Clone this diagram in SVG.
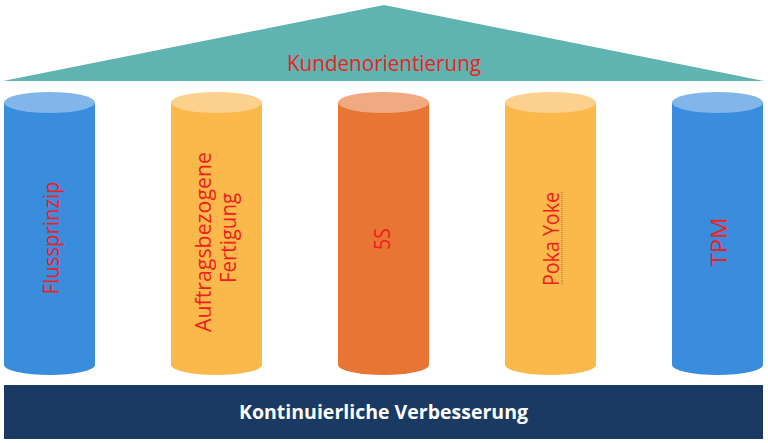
<svg xmlns="http://www.w3.org/2000/svg" width="768" height="443" viewBox="0 0 768 443">
<style>
.lbl{font-family:"Open Sans","Noto Sans","Liberation Sans",sans-serif;fill:#f0201e;font-size:21px;text-anchor:middle}
.base{font-family:"Open Sans","Noto Sans","Liberation Sans",sans-serif;fill:#ffffff;font-size:20px;font-weight:bold;text-anchor:middle}
.blue{fill:#3a8ddd}.blueTop{fill:#82b5e9}
.yel{fill:#fbb84b}.yelTop{fill:#fcd08d}
.ora{fill:#e97534}.oraTop{fill:#f1a981}
</style>
<rect width="768" height="443" fill="#ffffff"/>
<g id="roof">
<polygon points="384,5 764,81 3,81" fill="#5fb3b0"/>
<text class="lbl" x="384" y="71" textLength="194" lengthAdjust="spacingAndGlyphs">Kundenorientierung</text>
</g>
<g id="pillar-flussprinzip">
<path class="blue" d="M4,102.5 V365 A45.5,10 0 0 0 95,365 V102.5 Z"/>
<ellipse class="blueTop" cx="49.5" cy="102.5" rx="45.5" ry="10.5"/>
<text class="lbl" transform="translate(59,238) rotate(-90)" textLength="113" lengthAdjust="spacingAndGlyphs">Flussprinzip</text>
</g>
<g id="pillar-auftragsbezogene">
<path class="yel" d="M171,102.5 V365 A45.5,10 0 0 0 262,365 V102.5 Z"/>
<ellipse class="yelTop" cx="216.5" cy="102.5" rx="45.5" ry="10.5"/>
<text class="lbl" transform="translate(211,242) rotate(-90)" textLength="180" lengthAdjust="spacingAndGlyphs">Auftragsbezogene</text>
<text class="lbl" transform="translate(236,238) rotate(-90)" textLength="90" lengthAdjust="spacingAndGlyphs">Fertigung</text>
</g>
<g id="pillar-5s">
<path class="ora" d="M338,102.5 V365 A45.5,10 0 0 0 429,365 V102.5 Z"/>
<ellipse class="oraTop" cx="383.5" cy="102.5" rx="45.5" ry="10.5"/>
<text class="lbl" transform="translate(390,239) rotate(-90)" textLength="22" lengthAdjust="spacingAndGlyphs">5S</text>
</g>
<g id="pillar-pokayoke">
<path class="yel" d="M505,102.5 V365 A45.5,10 0 0 0 596,365 V102.5 Z"/>
<ellipse class="yelTop" cx="550.5" cy="102.5" rx="45.5" ry="10.5"/>
<text class="lbl" transform="translate(559,239) rotate(-90)" textLength="94" lengthAdjust="spacingAndGlyphs">Poka Yoke</text>
<line x1="562" y1="192" x2="562" y2="286" stroke="#b06a5a" stroke-width="1" stroke-dasharray="1,1"/>
</g>
<g id="pillar-tpm">
<path class="blue" d="M672,102.5 V365 A45.5,10 0 0 0 763,365 V102.5 Z"/>
<ellipse class="blueTop" cx="717.5" cy="102.5" rx="45.5" ry="10.5"/>
<text class="lbl" transform="translate(727,242) rotate(-90)" textLength="49" lengthAdjust="spacingAndGlyphs">TPM</text>
</g>
<g id="foundation">
<rect x="4" y="385" width="759" height="54" fill="#1a3a64"/>
<text class="base" x="383.5" y="419" textLength="289" lengthAdjust="spacingAndGlyphs">Kontinuierliche Verbesserung</text>
</g>
<g id="connectors"/>
</svg>
